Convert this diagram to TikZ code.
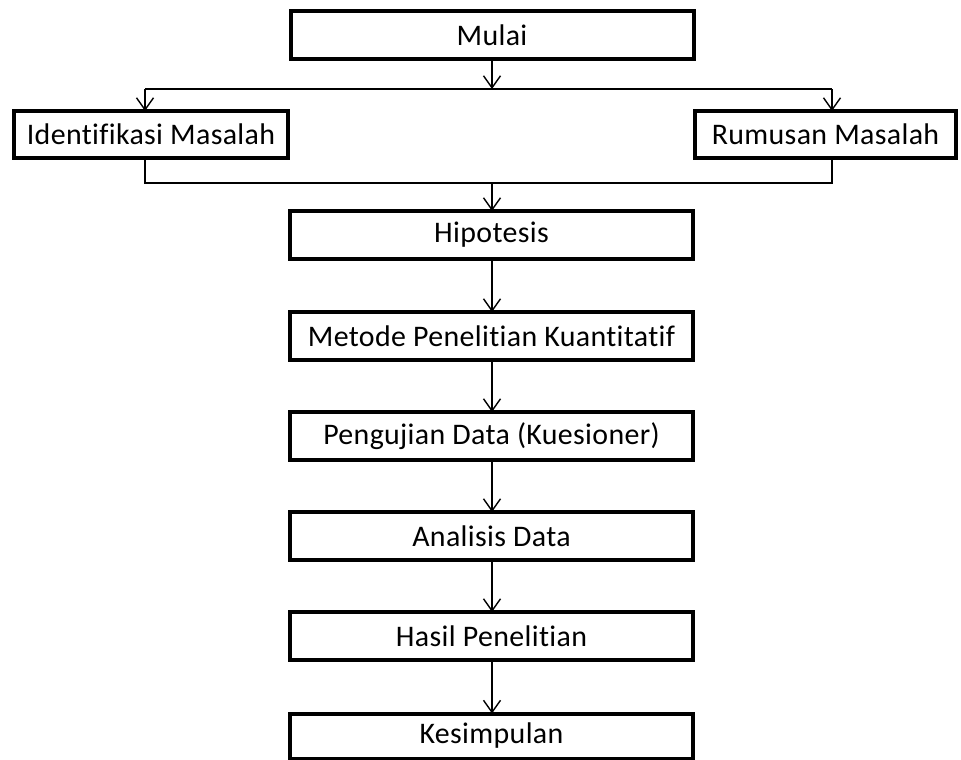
\documentclass[tikz,border=0pt]{standalone}
\usepackage{fontspec}
\setmainfont[Ligatures=NoCommon,LetterSpace=1.2]{Carlito}
\usetikzlibrary{arrows.meta}
\begin{document}
\begin{tikzpicture}[x=1bp,y=-1bp,
  box/.style={draw=black,line width=4bp,fill=white,minimum width=403bp,minimum height=48bp,
    inner sep=0pt,outer sep=0pt,font=\fontsize{30}{33}\selectfont},
  conn/.style={draw=black,line width=1.4bp},
  arr/.style={conn,-{Straight Barb[length=12bp,width=17bp,line width=1.4bp]}}]
\useasboundingbox (0,0) rectangle (961,760);
\fill[white] (0,0) rectangle (961,760);
% boxes
\node[box] (mulai) at (492,35) {Mulai};
\node[box,minimum width=274bp,minimum height=47bp] (ident) at (151,134.5) {Identifikasi Masalah};
\node[box,minimum width=261bp,minimum height=47bp] (rumus) at (825.5,134.5) {Rumusan Masalah};
\node[box] (hipo) at (491.5,235) {Hipotesis};
\node[box] (metode) at (491.5,336) {Metode Penelitian Kuantitatif};
\node[box] (uji) at (491.5,436) {Pengujian Data (Kuesioner)};
\node[box] (anal) at (491.5,536) {Analisis Data};
\node[box] (hasil) at (491.5,636) {Hasil Penelitian};
\node[box,minimum height=45bp] (kesim) at (491.5,736) {Kesimpulan};
% connector coordinates
\coordinate (split) at (492,89);
\coordinate (sl) at (145,89);
\coordinate (sr) at (832,89);
\coordinate (jl) at (145,183);
\coordinate (jr) at (832,183);
\coordinate (jm) at (492,183);
% connectors
\draw[arr] (mulai.south -| split) -- (split);
\draw[conn] (sl) -- (sr);
\draw[arr] (sl) -- (sl |- ident.north);
\draw[arr] (sr) -- (sr |- rumus.north);
\draw[conn] (ident.south -| jl) -- (jl) -- (jr) -- (rumus.south -| jr);
\draw[arr] (jm) -- (hipo.north -| jm);
\draw[arr] (hipo.south -| jm) -- (metode.north -| jm);
\draw[arr] (metode.south -| jm) -- (uji.north -| jm);
\draw[arr] (uji.south -| jm) -- (anal.north -| jm);
\draw[arr] (anal.south -| jm) -- (hasil.north -| jm);
\draw[arr] (hasil.south -| jm) -- (kesim.north -| jm);
\end{tikzpicture}
\end{document}
